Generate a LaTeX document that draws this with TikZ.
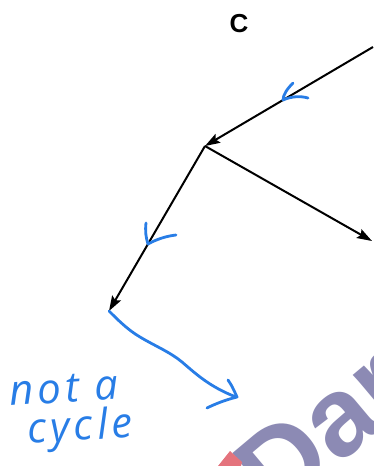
\documentclass[tikz,border=0pt]{standalone}
\usepackage{fontspec}
\usetikzlibrary{arrows.meta}
\newfontfamily\labelfont{Liberation Sans}
\newfontfamily\handfont{Open Sans}[LetterSpace=10]
\definecolor{handblue}{RGB}{40,125,230}
\definecolor{wm}{RGB}{140,138,180}
\definecolor{wmred}{RGB}{228,115,125}
\begin{document}
\begin{tikzpicture}[x=1pt,y=-1pt,
  edge/.style={line width=2pt, -{Stealth[length=15pt,width=10pt,inset=2.5pt]}},
  pen/.style={draw=handblue, line width=2.8pt, line cap=round, line join=round},
  hand/.style={text=handblue, font=\handfont\itshape\fontsize{42}{42}\selectfont, inner sep=0pt}]
\useasboundingbox (0,0) rectangle (373,466);
\begin{scope}
  \clip (0,0) rectangle (373,466);
  \node[rotate=40, text=wm, font=\labelfont\bfseries\fontsize{112}{112}\selectfont, anchor=base west, inner sep=0pt] (wmk) at (276,518) {Dar};
  \fill[wmred] (218,466) -- (230,451) -- (242,462) -- (241,466) -- cycle;
\end{scope}
\node[font=\labelfont\bfseries\fontsize{26}{26}\selectfont] (lab) at (239,24) {C};
\coordinate (S) at (373,47);
\coordinate (A) at (205,146);
\coordinate (R) at (372,241);
\coordinate (B) at (109,311);
\draw[edge] (S) -- (A);
\draw[edge] (A) -- (R);
\draw[edge] (A) -- (B);
% tick marks
\draw[pen] (293,83) .. controls (287,89) and (283,95) .. (283,100) .. controls (292,96) and (301,96) .. (308,98);
\draw[pen] (146,223) .. controls (145,231) and (146,238) .. (148,244) .. controls (157,239) and (167,236) .. (176,235);
% squiggle
\draw[pen] (B) .. controls (118,320) and (128,330) .. (140,337) .. controls (155,346) and (170,352) .. (182,362) .. controls (196,374) and (210,387) .. (236,397);
\coordinate (T) at (237,397);
\draw[pen] (228,380) .. controls (232,386) .. (T) .. controls (225,400) and (215,404) .. (207,408);
\node[hand, anchor=base west, rotate=4] (t1) at (10,406) {not a};
\node[hand, anchor=base west, rotate=4] (t2) at (28,444) {cycle};
\end{tikzpicture}
\end{document}
